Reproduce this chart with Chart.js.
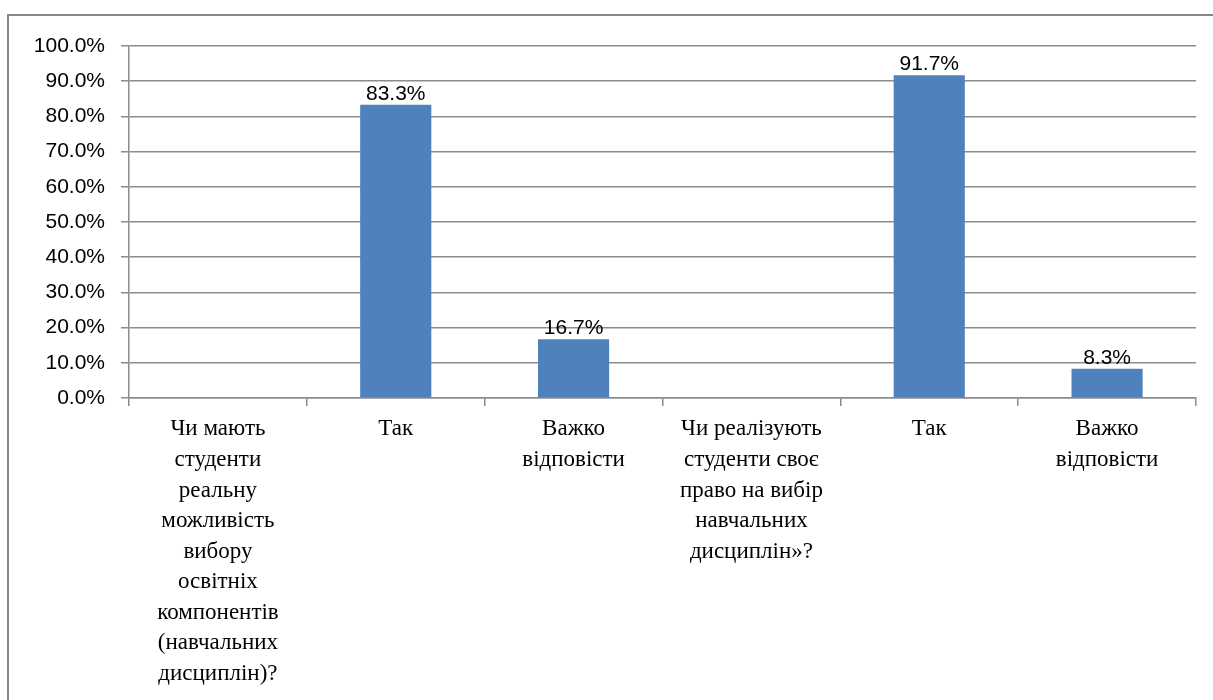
<!DOCTYPE html>
<html>
<head>
<meta charset="utf-8">
<script src="https://cdn.jsdelivr.net/npm/chart.js@4.4.1/dist/chart.umd.min.js"></script>
<style>
  html, body { margin: 0; padding: 0; background: #fff; overflow: hidden; }
  #frame {
    position: absolute; left: 7px; top: 14px;
    width: 1220px; height: 700px;
    border: 2px solid #888; box-sizing: border-box;
  }
  #wrap { position: absolute; left: 0; top: 0; width: 1204px; height: 684px; }
</style>
</head>
<body>
<div id="frame"><div id="wrap"><canvas id="chart"></canvas></div></div>
<script>
// Data
const categories = [
  ["Чи мають", "студенти", "реальну", "можливість", "вибору", "освітніх", "компонентів", "(навчальних", "дисциплін)?"],
  ["Так"],
  ["Важко", "відповісти"],
  ["Чи реалізують", "студенти своє", "право на вибір", "навчальних", "дисциплін»?"],
  ["Так"],
  ["Важко", "відповісти"],
];
const values = [null, 83.3, 16.7, null, 91.7, 8.3];
const yTicks = [0, 10, 20, 30, 40, 50, 60, 70, 80, 90, 100];

const BAR_COLOR = "#4F81BD";
const GRID_COLOR = "#8c8c8c";
const SANS = "'Liberation Sans', Arial, sans-serif";
const SERIF = "'Liberation Serif', 'Times New Roman', serif";

// value labels above bars
const barLabels = {
  id: "barLabels",
  afterDatasetsDraw(chart) {
    const ctx = chart.ctx;
    const meta = chart.getDatasetMeta(0);
    ctx.save();
    ctx.font = "21px " + SANS;
    ctx.fillStyle = "#000";
    ctx.textAlign = "center";
    ctx.textBaseline = "alphabetic";
    meta.data.forEach((bar, i) => {
      if (values[i] == null) return;
      ctx.fillText(values[i].toFixed(1) + "%", bar.x, bar.y - 5);
    });
    ctx.restore();
  },
};

new Chart(document.getElementById("chart"), {
  type: "bar",
  data: {
    labels: categories,
    datasets: [{
      data: values,
      backgroundColor: BAR_COLOR,
      barPercentage: 0.4,
      categoryPercentage: 1.0,
    }],
  },
  options: {
    responsive: true,
    maintainAspectRatio: false,
    animation: false,
    layout: { padding: { top: 30, right: 17, left: 0, bottom: 0 } },
    plugins: {
      legend: { display: false },
      tooltip: { enabled: false },
    },
    scales: {
      x: {
        grid: {
          drawOnChartArea: false,
          color: GRID_COLOR,
          lineWidth: 1.5,
          tickLength: 8,
          offset: true,
        },
        border: { color: GRID_COLOR, width: 1.5 },
        ticks: {
          color: "#000",
          font: { family: SERIF, size: 23, lineHeight: 1.33 },
          maxRotation: 0,
          autoSkip: false,
          padding: 8,
        },
        afterFit(scale) { scale.height = 302; },
      },
      y: {
        min: 0,
        max: 100,
        afterBuildTicks(scale) { scale.ticks = yTicks.map((v) => ({ value: v })); },
        grid: { color: GRID_COLOR, lineWidth: 1.5, tickLength: 8 },
        border: { color: GRID_COLOR, width: 1.5 },
        ticks: {
          color: "#000",
          font: { family: SANS, size: 21 },
          padding: 16,
          callback: (v) => v.toFixed(1) + "%",
        },
        afterFit(scale) { scale.width = 120; },
      },
    },
  },
  plugins: [barLabels],
});
</script>
</body>
</html>
